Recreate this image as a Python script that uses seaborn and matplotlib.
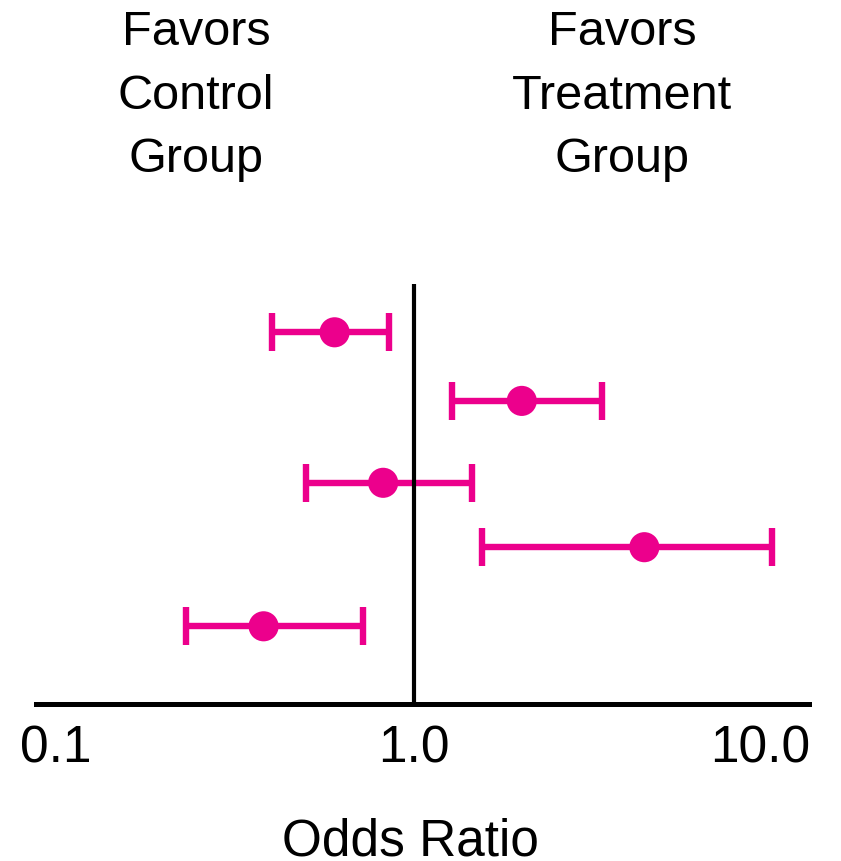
import matplotlib
matplotlib.use("Agg")
import matplotlib.pyplot as plt
import matplotlib.transforms as mtransforms
import numpy as np
import pandas as pd
import seaborn as sns

# Study-level odds ratios with 95% confidence limits
studies = ["Study 1", "Study 2", "Study 3", "Study 4", "Study 5"]
odds_ratio = [0.60, 2.00, 0.82, 4.40, 0.38]
ci_lower = [0.40, 1.28, 0.50, 1.55, 0.23]
ci_upper = [0.85, 3.35, 1.45, 10.0, 0.72]
row_y = [5.31, 4.33, 3.16, 2.24, 1.11]

tick_values = [0.1, 1.0, 10.0]
tick_labels = ["0.1", "1.0", "10.0"]

df = pd.DataFrame({
    "study": studies,
    "or": odds_ratio,
    "lo": ci_lower,
    "hi": ci_upper,
    "y": row_y,
})

sns.set_theme(style="white")
plt.rcParams["font.family"] = ["Liberation Sans", "DejaVu Sans"]

PINK = "#EC008C"
W, H = 841, 862
fig = plt.figure(figsize=(W / 100, H / 100), dpi=100)
ax = fig.add_axes([36 / W, (H - 705) / H, 773 / W, 420 / H])

ax.set_xscale("log")

# confidence intervals
ax.errorbar(
    df["or"], df["y"],
    xerr=[df["or"] - df["lo"], df["hi"] - df["or"]],
    fmt="none", ecolor=PINK, elinewidth=4.6,
    capsize=14, capthick=4.6, zorder=2,
)

# point estimates
sns.scatterplot(
    data=df, x="or", y="y", ax=ax, color=PINK, s=470,
    edgecolor="none", linewidth=0, zorder=3, legend=False,
)

# line of no effect
ax.axvline(1.0, color="black", lw=3, zorder=4)

ax.set_xlim(0.0879, 12.69)
ax.set_ylim(0, 6)

ax.set_xticks(tick_values)
ax.set_xticklabels(tick_labels)
ax.xaxis.set_minor_locator(matplotlib.ticker.NullLocator())
ax.set_yticks([])
ax.tick_params(axis="x", length=0, pad=14, labelsize=37, labelcolor="black")

# pull the last label in so it ends at the axis edge
last = ax.xaxis.get_major_ticks()[-1].label1
last.set_transform(last.get_transform()
                   + mtransforms.ScaledTranslation(-0.12, 0, fig.dpi_scale_trans))

ax.set_xlabel("Odds Ratio", fontsize=37, labelpad=32, color="black")
ax.xaxis.label.set_x((410 - 36) / 773)
ax.set_ylabel("")

for side in ["top", "left", "right"]:
    ax.spines[side].set_visible(False)
ax.spines["bottom"].set_linewidth(3.6)
ax.spines["bottom"].set_color("black")

fig.text(196 / W, 1 - 10 / H, "Favors\nControl\nGroup", ha="center", va="top",
         fontsize=35, linespacing=1.53, color="black")
fig.text(622 / W, 1 - 10 / H, "Favors\nTreatment\nGroup", ha="center", va="top",
         fontsize=35, linespacing=1.53, color="black")

fig.savefig("out.png", dpi=100, facecolor="white")
